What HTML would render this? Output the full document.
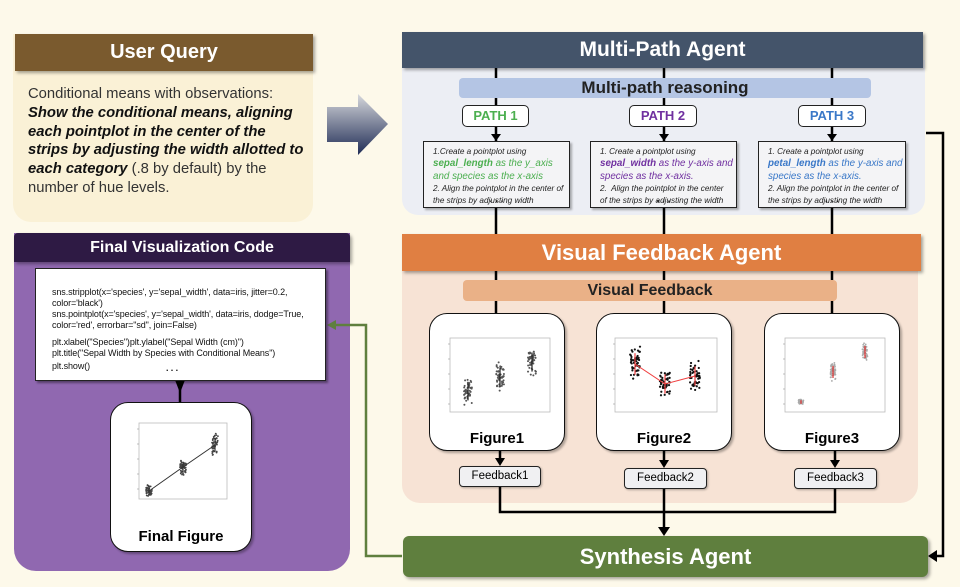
<!DOCTYPE html>
<html><head><meta charset="utf-8"><style>
*{margin:0;padding:0;box-sizing:border-box}
body{width:960px;height:587px;background:#fdf9ea;position:relative;overflow:hidden;font-family:"Liberation Sans",sans-serif}
.a{position:absolute}
.hdr{color:#fff;font-weight:bold;text-align:center;box-shadow:2px 2px 3px rgba(0,0,0,.35)}
.path{background:#fff;border:1.5px solid #222;border-radius:5px;font-weight:bold;font-size:13px;text-align:center;line-height:20px}
.step{background:#f4f4f6;border:1.5px solid #222;box-shadow:2px 2px 2px rgba(0,0,0,.3);font-size:8.2px;font-style:italic;color:#222;padding:4px 0 0 9px;line-height:12px;white-space:nowrap;overflow:hidden}
.step .c{font-size:9.8px;line-height:12.6px}
.step .d{position:absolute;left:0;width:100%;top:53px;text-align:center;font-weight:bold;font-style:normal;font-size:10px;line-height:10px}
.fig{background:#fff;border:1.5px solid #111;border-radius:18px;box-shadow:2px 2px 2px rgba(0,0,0,.3)}
.fig .t{position:absolute;bottom:3px;width:100%;text-align:center;font-weight:bold;font-size:15px}
.fb{background:#f0f0f2;border:1.5px solid #222;border-radius:4px;font-size:11.5px;text-align:center;line-height:18px;box-shadow:1px 1px 2px rgba(0,0,0,.3)}
svg.p{position:absolute}
</style></head><body>

<div class="a" style="left:13px;top:34px;width:300px;height:188px;background:#faf1d6;border-radius:0 0 18px 18px"></div>
<div class="a hdr" style="left:15px;top:34px;width:298px;height:37px;background:#7a5a2e;font-size:20px;line-height:37px">User Query</div>
<div class="a" style="left:28px;top:85px;width:278px;font-size:14.8px;line-height:18.8px;color:#333">Conditional means with observations: <b style="color:#111"><i>Show the conditional means, aligning each pointplot in the center of the strips by adjusting the width allotted to each category</i></b> (.8 by default) by the number of hue levels.</div>

<svg class="p" style="left:325px;top:92px" width="66" height="66"><defs><linearGradient id="g" x1="0" y1="0" x2="0" y2="1"><stop offset="0" stop-color="#d6d8dc"/><stop offset="1" stop-color="#1f2c55"/></linearGradient></defs><polygon points="2,15 33,15 33,2 63,32 33,63 33,50 2,50" fill="url(#g)"/></svg>

<div class="a" style="left:14px;top:233px;width:336px;height:338px;background:#9068b0;border-radius:0 0 22px 22px"></div>

<div class="a" style="left:402px;top:60px;width:523px;height:155px;background:#eceef4;border-radius:0 0 16px 16px"></div>
<div class="a" style="left:402px;top:262px;width:516px;height:241px;background:#f7e3d5;border-radius:0 0 18px 18px"></div>

<svg class="p" style="left:0;top:0" width="960" height="587">
<g stroke="#000" stroke-width="2.5" fill="none">
<line x1="496" y1="68" x2="496" y2="313"/><line x1="664" y1="68" x2="664" y2="313"/><line x1="832" y1="68" x2="832" y2="313"/>
<line x1="500" y1="451" x2="500" y2="460"/><line x1="664" y1="451" x2="664" y2="462"/><line x1="835" y1="451" x2="835" y2="462"/>
<polyline points="500,487 500,512 835,512 835,489"/><line x1="664" y1="489" x2="664" y2="528"/>
<polyline points="926,133 943,133 943,556 936,556"/>
</g>
<g fill="#000"><polygon points="491,118 501,118 496,126"/><polygon points="491,134 501,134 496,141"/><polygon points="659,134 669,134 664,141"/><polygon points="827,134 837,134 832,141"/>
<polygon points="495,458 505,458 500,466"/><polygon points="659,460 669,460 664,468"/><polygon points="830,460 840,460 835,468"/>
<polygon points="658,527 670,527 664,536"/><polygon points="937,550 937,562 928,556"/>
<polygon points="175,380 185,380 180,393"/></g>
<line x1="180" y1="381" x2="180" y2="402" stroke="#000" stroke-width="2.5"/>
<polyline points="402,556 366,556 366,325 334,325" stroke="#5f7f3e" stroke-width="2.5" fill="none"/>
<polygon points="327,325 336,320 336,330" fill="#5f7f3e"/>
</svg>

<div class="a hdr" style="left:14px;top:233px;width:336px;height:29px;background:#2e1a44;border-radius:4px 4px 0 0;font-size:16px;line-height:29px">Final Visualization Code</div>
<div class="a" style="left:35px;top:268px;width:291px;height:113px;background:#fff;border:1.5px solid #222;box-shadow:2px 2px 2px rgba(0,0,0,.4);font-size:9px;line-height:11px;padding:18px 0 0 16px;color:#111;letter-spacing:-0.1px">sns.stripplot(x='species', y='sepal_width', data=iris, jitter=0.2, color='black')<br>sns.pointplot(x='species', y='sepal_width', data=iris, dodge=True, color='red', errorbar="sd", join=False)<div style="height:6px"></div>plt.xlabel("Species")plt.ylabel("Sepal Width (cm)")<br>plt.title("Sepal Width by Species with Conditional Means")<br><div style="margin-top:2px">plt.show()</div><div style="position:absolute;left:130px;top:94px;font-weight:bold">. . .</div></div>
<div class="a fig" style="left:110px;top:402px;width:142px;height:150px"><svg class="p" id="ff" style="left:20px;top:16px" width="100" height="92"></svg><div class="t" style="bottom:6px">Final Figure</div></div>

<div class="a hdr" style="left:402px;top:32px;width:521px;height:36px;background:#44546a;font-size:21px;line-height:36px">Multi-Path Agent</div>
<div class="a hdr" style="left:402px;top:234px;width:519px;height:37px;background:#e07f42;font-size:22px;line-height:37px">Visual Feedback Agent</div>

<div class="a" style="left:459px;top:78px;width:412px;height:20px;background:#b4c5e4;border-radius:4px;font-weight:bold;font-size:17px;text-align:center;line-height:20px;color:#222">Multi-path reasoning</div>
<div class="a path" style="left:462px;top:105px;width:67px;height:22px;color:#4caf50">PATH 1</div>
<div class="a path" style="left:629px;top:105px;width:68px;height:22px;color:#7030a0">PATH 2</div>
<div class="a path" style="left:798px;top:105px;width:68px;height:22px;color:#3a78c8">PATH 3</div>
<div class="a step" style="left:423px;top:141px;width:147px;height:67px">1.Create a pointplot using<div class="c" style="color:#4caf50"><b>sepal_length</b> as the y_axis<br>and species as the x-axis</div>2. Align the pointplot in the center of<br>the strips by adjusting width<div class="d">. . .</div></div>
<div class="a step" style="left:590px;top:141px;width:147px;height:67px">1. Create a pointplot using<div class="c" style="color:#7030a0"><b>sepal_width</b> as the y-axis and<br>species as the x-axis.</div>2.&nbsp; Align the pointplot in the center<br>of the strips by adjusting the width<div class="d">. . .</div></div>
<div class="a step" style="left:758px;top:141px;width:148px;height:67px">1. Create a pointplot using<div class="c" style="color:#3a78c8"><b>petal_length</b> as the y-axis and<br>species as the x-axis.</div>2. Align the pointplot in the center of<br>the strips by adjusting the width<div class="d">. . .</div></div>

<div class="a" style="left:463px;top:280px;width:374px;height:21px;background:#eab187;border-radius:4px;font-weight:bold;font-size:16px;text-align:center;line-height:21px;color:#222">Visual Feedback</div>

<div class="a fig" style="left:429px;top:313px;width:136px;height:138px"><svg class="p" id="f1" style="left:12px;top:20px" width="112" height="90"></svg><div class="t">Figure1</div></div>
<div class="a fig" style="left:596px;top:313px;width:136px;height:138px"><svg class="p" id="f2" style="left:10px;top:20px" width="114" height="90"></svg><div class="t">Figure2</div></div>
<div class="a fig" style="left:764px;top:313px;width:136px;height:138px"><svg class="p" id="f3" style="left:12px;top:20px" width="112" height="90"></svg><div class="t">Figure3</div></div>

<div class="a fb" style="left:459px;top:466px;width:82px;height:21px">Feedback1</div>
<div class="a fb" style="left:624px;top:468px;width:83px;height:21px">Feedback2</div>
<div class="a fb" style="left:794px;top:468px;width:83px;height:21px">Feedback3</div>

<div class="a hdr" style="left:403px;top:536px;width:525px;height:41px;background:#5f7f3e;border-radius:6px;font-size:22px;line-height:41px">Synthesis Agent</div>

<script>
var s=7;function r(){s=(s*9301+49297)%233280;return s/233280}
function plot(id,w,h,groups,line,lc,dc,rad){var e=document.getElementById(id),o='<rect x="8" y="4" width="'+(w-12)+'" height="'+(h-16)+'" fill="none" stroke="#bbb" stroke-width="0.8"/>';
for(var k=0;k<5;k++)o+='<line x1="6" x2="8" y1="'+(10+k*15)+'" y2="'+(10+k*15)+'" stroke="#999" stroke-width="0.6"/>';
var pts=[];groups.forEach(function(g){for(var i=0;i<50;i++){o+='<circle cx="'+(g[0]+(r()-.5)*g[2])+'" cy="'+(g[1]+(r()+r()-1)*g[3])+'" r="'+rad+'" fill="'+dc+'"/>'}pts.push(g[0]+','+g[1]);o+='<line x1="'+g[0]+'" x2="'+g[0]+'" y1="'+(g[1]-g[3]*.6)+'" y2="'+(g[1]+g[3]*.6)+'" stroke="'+lc+'" stroke-width="1.2"/>'});
if(line)o+='<polyline points="'+pts.join(' ')+'" fill="none" stroke="'+lc+'" stroke-width="1"/>';e.innerHTML=o}
plot('f1',112,90,[[26,58,8,14],[58,43,8,16],[90,28,8,16]],false,'#222','#555',1);
plot('f2',114,90,[[28,30,10,18],[58,50,10,16],[88,42,10,16]],true,'#f04040','#111',1.1);
plot('f3',112,90,[[24,68,5,3],[56,38,5,10],[88,18,5,10]],false,'#e03030','#aaa',0.9);
plot('ff',100,92,[[18,72,6,7],[52,48,6,9],[84,26,6,12]],true,'#333','#444',0.9);
</script>
</body></html>
